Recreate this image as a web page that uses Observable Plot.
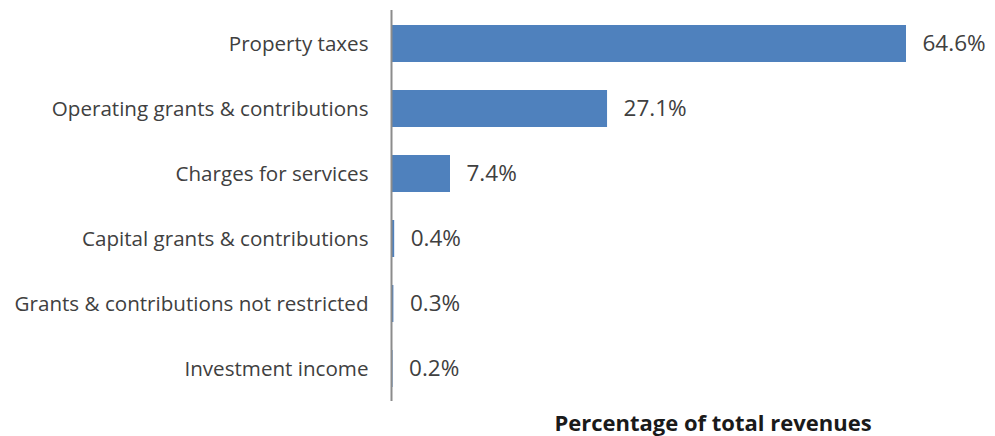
<!DOCTYPE html>
<html>
<head>
<meta charset="utf-8">
<script src="https://cdn.jsdelivr.net/npm/d3@7"></script>
<script src="https://cdn.jsdelivr.net/npm/@observablehq/plot@0.6"></script>
<style>
  html, body { margin: 0; padding: 0; background: #fff; }
  #chart { width: 995px; height: 436px; }
</style>
</head>
<body>
<div id="chart"></div>
<script>
const categories = [
  "Property taxes",
  "Operating grants & contributions",
  "Charges for services",
  "Capital grants & contributions",
  "Grants & contributions not restricted",
  "Investment income"
];
const values = [64.6, 27.1, 7.4, 0.4, 0.3, 0.2];
const valueLabels = ["64.6%", "27.1%", "7.4%", "0.4%", "0.3%", "0.2%"];
const axisTitle = "Percentage of total revenues";

const data = categories.map((c, i) => ({category: c, value: values[i], label: valueLabels[i]}));

const chart = Plot.plot({
  width: 995,
  height: 436,
  marginLeft: 391,
  marginRight: 89,
  marginTop: 10,
  marginBottom: 35,
  style: {fontFamily: "'Open Sans', sans-serif", fontSize: "18px", color: "#404040", background: "#fff"},
  x: {domain: [0, 64.6], axis: null},
  y: {domain: categories, paddingInner: 0.434, paddingOuter: 0.206, label: null},
  marks: [
    Plot.barX(data, {y: "category", x: "value", fill: "#4f81bd"}),
    Plot.text(data, {y: "category", x: "value", text: "label", textAnchor: "start", dx: 16, fontSize: 22.5, fill: "#404040"}),
    Plot.axisY({tickSize: 0, tickPadding: 23, fontSize: 20.6, label: null, color: "#404040"}),
    Plot.ruleX([0], {stroke: "#8c8c8c", strokeWidth: 2}),
    Plot.text([axisTitle], {frameAnchor: "bottom", dy: 22, dx: 64, fontWeight: "bold", fontSize: 22, fill: "#1a1a1a", lineAnchor: "middle"})
  ]
});
document.getElementById("chart").appendChild(chart);
</script>
</body>
</html>
